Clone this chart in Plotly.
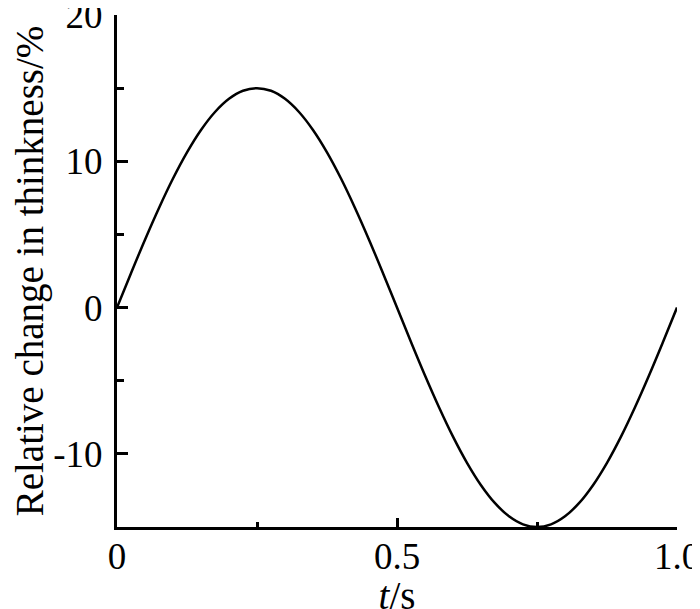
import plotly.graph_objects as go

# time (s) and relative change in thickness (%)
t = [0.0, 0.025, 0.05, 0.075, 0.1, 0.125, 0.15, 0.175, 0.2, 0.225,
     0.25, 0.275, 0.3, 0.325, 0.35, 0.375, 0.4, 0.425, 0.45, 0.475,
     0.5, 0.525, 0.55, 0.575, 0.6, 0.625, 0.65, 0.675, 0.7, 0.725,
     0.75, 0.775, 0.8, 0.825, 0.85, 0.875, 0.9, 0.925, 0.95, 0.975, 1.0]
thick = [0.0, 2.35, 4.64, 6.81, 8.82, 10.61, 12.14, 13.37, 14.27, 14.82,
         15.0, 14.82, 14.27, 13.37, 12.14, 10.61, 8.82, 6.81, 4.64, 2.35,
         0.0, -2.35, -4.64, -6.81, -8.82, -10.61, -12.14, -13.37, -14.27, -14.82,
         -15.0, -14.82, -14.27, -13.37, -12.14, -10.61, -8.82, -6.81, -4.64, -2.35, 0.0]

x_ticks = [0, 0.5, 1.0]
x_labels = ["0", "0.5", "1.0"]
y_ticks = [-10, 0, 10, 20]
y_labels = ["-10", "0", "10", "20"]

FONT = "Liberation Serif, Times New Roman, serif"
FS = 37
FS_TITLE = 39

fig = go.Figure()
fig.add_trace(go.Scatter(x=t, y=thick, mode="lines",
                         line=dict(color="black", width=2.5, shape="spline", smoothing=1),
                         cliponaxis=False, showlegend=False))

fig.update_xaxes(range=[0, 1.0], tickvals=x_ticks, ticktext=x_labels,
                 ticks="inside", ticklen=9, tickwidth=2.5, tickcolor="black",
                 minor=dict(tickvals=[0.25, 0.75], ticks="inside", ticklen=5,
                            tickwidth=2.5, tickcolor="black"),
                 showline=True, linecolor="black", linewidth=3,
                 showgrid=False, zeroline=False, automargin=False,
                 ticklabeloverflow="allow", ticklabelstandoff=-5,
                 tickfont=dict(family=FONT, size=FS, color="black"),
                 title=dict(text="<i>t</i>/s", standoff=11,
                            font=dict(family=FONT, size=FS_TITLE, color="black")))
fig.update_yaxes(range=[-15, 20], tickvals=y_ticks, ticktext=y_labels,
                 ticks="inside", ticklen=11, tickwidth=2.5, tickcolor="black",
                 minor=dict(tickvals=[-5, 5, 15], ticks="inside", ticklen=7,
                            tickwidth=2.5, tickcolor="black"),
                 showline=True, linecolor="black", linewidth=3,
                 showgrid=False, zeroline=False, automargin=False,
                 ticklabeloverflow="allow", ticklabelstandoff=4,
                 tickfont=dict(family=FONT, size=FS, color="black"),
                 title=dict(text="Relative change in thinkness/%", standoff=23,
                            font=dict(family=FONT, size=FS_TITLE, color="black")))

# the page body adds an 8px offset, so margins are shifted to compensate
fig.update_layout(width=700, height=609,
                  margin=dict(l=109, r=31, t=7, b=90),
                  plot_bgcolor="white", paper_bgcolor="white")

fig.write_html("out.html")
